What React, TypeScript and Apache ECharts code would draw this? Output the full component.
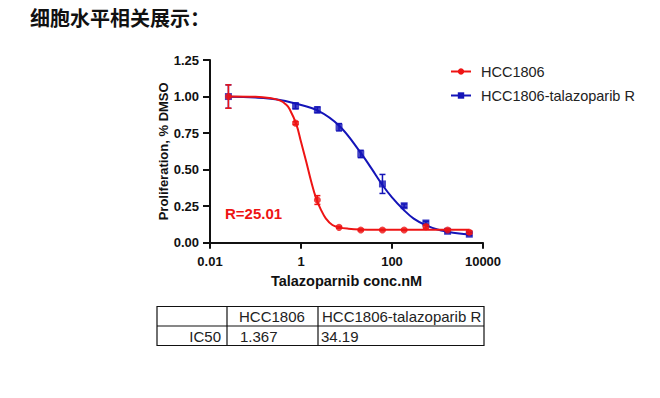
import React, { useEffect, useRef } from "react";
import * as echarts from "echarts";

// concentrations (nM) of measured points
const concentrations = [0.0254, 0.76, 2.29, 6.86, 20.6, 61.7, 185, 556, 1667, 5000];
// HCC1806 means and SEM
const redMeans = [1.0, 0.818, 0.292, 0.105, 0.087, 0.087, 0.087, 0.11, 0.087, 0.071];
const redErrors = [0.08, 0.01, 0.03, 0.006, 0.005, 0.004, 0.004, 0.01, 0.004, 0.01];
// HCC1806-talazoparib R means and SEM
const blueMeans = [1.0, 0.936, 0.909, 0.79, 0.607, 0.402, 0.253, 0.135, 0.078, 0.058];
const blueErrors = [0.08, 0.02, 0.02, 0.025, 0.025, 0.065, 0.012, 0.012, 0.01, 0.01];

// fitted curves
const redCurveX = [0.0254, 0.1, 0.2, 0.35, 0.47, 0.56, 0.79, 1.0, 1.3, 1.67, 2.14, 2.75, 3.5, 4.9, 6.9, 11, 20, 60, 200, 1000, 5000];
const redCurveY = [1.0, 0.998, 0.99, 0.972, 0.945, 0.915, 0.81, 0.69, 0.555, 0.42, 0.305, 0.225, 0.167, 0.121, 0.105, 0.096, 0.091, 0.089, 0.088, 0.088, 0.088];
const blueCurveX = [0.0254, 0.1, 0.3, 0.76, 2.3, 6.9, 20, 35, 60, 100, 180, 300, 550, 1000, 1670, 3000, 5000];
const blueCurveY = [0.998, 0.993, 0.98, 0.952, 0.905, 0.8, 0.62, 0.51, 0.4, 0.31, 0.225, 0.165, 0.12, 0.09, 0.075, 0.063, 0.056];

const xTicks = [0.01, 1, 100, 10000];
const xTickLabels = ["0.01", "1", "100", "10000"];
const seriesNames = ["HCC1806", "HCC1806-talazoparib R"];

const tableHeader = ["", "HCC1806", "HCC1806-talazoparib R"];
const tableRow = ["IC50", "1.367", "34.19"];

const RED = "#ee1414";
const BLUE = "#1414b8";
const FONT = "'Liberation Sans', Arial, sans-serif";

function makeErrorSeries(name: string, color: string, means: number[], errs: number[]) {
  const data = concentrations.map((c, i) => [Math.log10(c), means[i] - errs[i], means[i] + errs[i]]);
  return {
    type: "custom",
    name: name + "-err",
    data,
    encode: { x: 0, y: [1, 2] },
    renderItem: (params: any, api: any) => {
      const x = api.value(0);
      const top = api.coord([x, api.value(2)]);
      const bot = api.coord([x, api.value(1)]);
      const w = 3;
      const style = { stroke: color, lineWidth: 1.5 };
      return {
        type: "group",
        children: [
          { type: "line", shape: { x1: top[0], y1: top[1], x2: bot[0], y2: bot[1] }, style },
          { type: "line", shape: { x1: top[0] - w, y1: top[1], x2: top[0] + w, y2: top[1] }, style },
          { type: "line", shape: { x1: bot[0] - w, y1: bot[1], x2: bot[0] + w, y2: bot[1] }, style },
        ],
      };
    },
    z: 3,
  };
}

export default function App() {
  const ref = useRef<HTMLDivElement>(null);
  useEffect(() => {
    if (!ref.current) return;
    const chart = echarts.init(ref.current, null, { renderer: "svg" });
    const colX = 157, c1 = 227, c2 = 318, colR = 484;
    const rowT = 306.5, rowM = 326, rowB = 345.5;
    const tStyle = { fontSize: 15, fontFamily: FONT, fill: "#222", verticalAlign: "middle" };
    const option: any = {
      animation: false,
      grid: { left: 210, right: 177, top: 60, bottom: 155.3, containLabel: false },
      legend: {
        data: seriesNames,
        orient: "vertical",
        left: 450,
        top: 64,
        padding: 0,
        itemWidth: 20,
        itemHeight: 8,
        itemGap: 9,
        textStyle: { fontSize: 14.5, fontFamily: FONT, color: "#222", padding: [0, 0, 0, 5] },
      },
      xAxis: {
        type: "value",
        min: -2,
        max: 4,
        interval: 2,
        name: "Talazoparnib conc.nM",
        nameLocation: "middle",
        nameGap: 31,
        nameTextStyle: { fontSize: 14.5, fontWeight: "bold", fontFamily: FONT, color: "#111" },
        axisLine: { onZero: false, lineStyle: { color: "#111", width: 2 } },
        axisTick: { length: 6, lineStyle: { color: "#111", width: 2 } },
        axisLabel: {
          margin: 12,
          fontSize: 13,
          fontWeight: "bold",
          fontFamily: FONT,
          color: "#111",
          formatter: (v: number) => {
            const idx = xTicks.findIndex((t) => Math.abs(Math.log10(t) - v) < 1e-6);
            return idx >= 0 ? xTickLabels[idx] : "";
          },
        },
        splitLine: { show: false },
      },
      yAxis: {
        type: "value",
        min: 0,
        max: 1.25,
        interval: 0.25,
        name: "Proliferation, % DMSO",
        nameLocation: "middle",
        nameGap: 38,
        nameTextStyle: { fontSize: 13, fontWeight: "bold", fontFamily: FONT, color: "#111" },
        axisLine: { show: true, onZero: false, lineStyle: { color: "#111", width: 2 } },
        axisTick: { show: true, length: 7, lineStyle: { color: "#111", width: 2 } },
        axisLabel: {
          margin: 11,
          fontSize: 13,
          fontWeight: "bold",
          fontFamily: FONT,
          color: "#111",
          formatter: (v: number) => v.toFixed(2),
        },
        splitLine: { show: false },
      },
      series: [
        {
          type: "line",
          name: seriesNames[1],
          data: blueCurveX.map((c, i) => [Math.log10(c), blueCurveY[i]]),
          smooth: 0.4,
          showSymbol: false,
          symbol: "rect",
          color: BLUE,
          lineStyle: { color: BLUE, width: 2 },
          itemStyle: { color: BLUE },
          z: 2,
        },
        makeErrorSeries(seriesNames[1], BLUE, blueMeans, blueErrors),
        {
          type: "scatter",
          name: seriesNames[1] + "-pts",
          data: concentrations.map((c, i) => [Math.log10(c), blueMeans[i]]),
          symbol: "rect",
          symbolSize: 7,
          itemStyle: { color: BLUE },
          z: 4,
        },
        {
          type: "line",
          name: seriesNames[0],
          data: redCurveX.map((c, i) => [Math.log10(c), redCurveY[i]]),
          smooth: 0.4,
          showSymbol: false,
          symbol: "circle",
          color: RED,
          lineStyle: { color: RED, width: 2 },
          itemStyle: { color: RED },
          z: 5,
        },
        { ...makeErrorSeries(seriesNames[0], RED, redMeans, redErrors), z: 6 },
        {
          type: "scatter",
          name: seriesNames[0] + "-pts",
          data: concentrations.map((c, i) => [Math.log10(c), redMeans[i]]),
          symbol: "circle",
          symbolSize: 7,
          itemStyle: { color: RED },
          z: 7,
        },
      ],
      graphic: [
        {
          type: "text",
          left: 30,
          top: 7,
          style: {
            text: "细胞水平相关展示：",
            fontSize: 20,
            fontWeight: "bold",
            fontFamily: "'Noto Sans CJK SC', sans-serif",
            fill: "#111",
          },
        },
        {
          type: "text",
          x: 225,
          y: 213,
          style: {
            text: "R=25.01",
            fontSize: 15,
            fontWeight: "bold",
            fontFamily: FONT,
            fill: RED,
            verticalAlign: "middle",
          },
          z: 10,
        },
        {
          type: "rect",
          shape: { x: colX, y: rowT, width: colR - colX, height: rowB - rowT },
          style: { fill: "none", stroke: "#111", lineWidth: 1.2 },
        },
        { type: "line", shape: { x1: colX, y1: rowM, x2: colR, y2: rowM }, style: { stroke: "#111", lineWidth: 1.2 } },
        { type: "line", shape: { x1: c1, y1: rowT, x2: c1, y2: rowB }, style: { stroke: "#111", lineWidth: 1.2 } },
        { type: "line", shape: { x1: c2, y1: rowT, x2: c2, y2: rowB }, style: { stroke: "#111", lineWidth: 1.2 } },
        { type: "text", x: 239, y: 316.5, style: { ...tStyle, text: tableHeader[1] } },
        { type: "text", x: 322, y: 316.5, style: { ...tStyle, text: tableHeader[2] } },
        { type: "text", x: 221, y: 336, style: { ...tStyle, text: tableRow[0], align: "right" } },
        { type: "text", x: 240, y: 336, style: { ...tStyle, text: tableRow[1] } },
        { type: "text", x: 321, y: 336, style: { ...tStyle, text: tableRow[2] } },
      ],
    };
    chart.setOption(option);
    return () => chart.dispose();
  }, []);
  return (
    <div
      ref={ref}
      style={{ position: "fixed", left: 0, top: 0, width: 660, height: 398, background: "#fff" }}
    />
  );
}
